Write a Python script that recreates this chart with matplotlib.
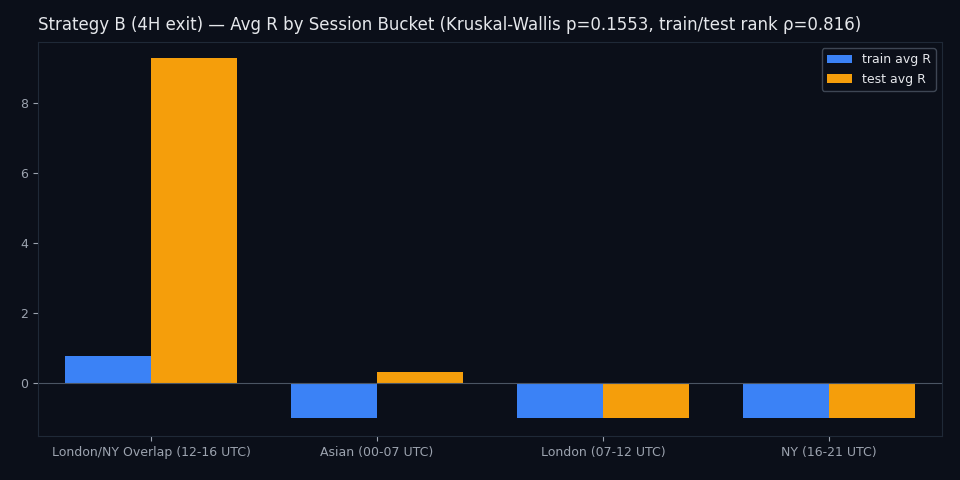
import matplotlib
matplotlib.use("Agg")
import matplotlib.pyplot as plt
import numpy as np

categories = ["London/NY Overlap (12-16 UTC)", "Asian (00-07 UTC)", "London (07-12 UTC)", "NY (16-21 UTC)"]
train_avg = [0.77, -1.0, -1.0, -1.0]
test_avg = [9.27, 0.32, -1.0, -1.0]

bg = "#0b0f19"
fig = plt.figure(figsize=(9.6, 4.8), dpi=100, facecolor=bg)
ax = fig.add_axes([38/960, 1-436/480, (942-38)/960, (436-42)/480], facecolor=bg)
x = np.arange(len(categories))
w = 0.38
ax.bar(x - w/2, train_avg, w, color="#3b82f6", label="train avg R")
ax.bar(x + w/2, test_avg, w, color="#f59e0b", label="test avg R")
ax.axhline(0, color="#4b5563", lw=0.8)
ax.set_xticks(x)
ax.set_xticklabels(categories)
ax.set_xlim(-0.5, 3.5)
ax.set_ylim(-1.51, 9.74)
ax.set_yticks([0, 2, 4, 6, 8])
ax.tick_params(colors="#9ca3af", labelsize=9)
for s in ax.spines.values():
    s.set_color("#1f2937")
ax.set_title("Strategy B (4H exit) — Avg R by Session Bucket (Kruskal-Wallis p=0.1553, train/test rank ρ=0.816)",
             color="#e5e7eb", fontsize=12, loc="left", pad=9, x=0)
leg = ax.legend(loc="upper right", facecolor=bg, edgecolor="#4b5563", fontsize=9)
for t in leg.get_texts():
    t.set_color("#e5e7eb")
fig.savefig("out.png", dpi=100, facecolor=bg)
